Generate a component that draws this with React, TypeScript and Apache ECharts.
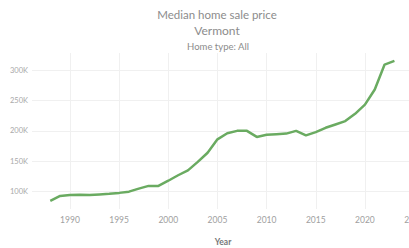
import React, { useEffect, useRef } from "react";
import * as echarts from "echarts";

const years: number[] = [
  1988, 1989, 1990, 1991, 1992, 1993, 1994, 1995, 1996, 1997, 1998, 1999,
  2000, 2001, 2002, 2003, 2004, 2005, 2006, 2007, 2008, 2009, 2010, 2011,
  2012, 2013, 2014, 2015, 2016, 2017, 2018, 2019, 2020, 2021, 2022, 2023,
];
const prices: number[] = [
  85000, 93000, 94500, 95000, 94500, 95500, 96500, 98000, 100000, 105000, 109500, 109500,
  118000, 127000, 135000, 149000, 164000, 186000, 196000, 200000, 200000, 190000, 193500, 194500,
  195500, 200000, 192500, 198000, 205000, 210500, 216000, 228000, 243000, 268000, 309000, 315000,
];
const titleLines: string[] = ["Median home sale price", "Vermont", "Home type: All"];
const xAxisName = "Year";

export default function App() {
  const ref = useRef<HTMLDivElement>(null);
  useEffect(() => {
    if (!ref.current) return;
    const chart = echarts.init(ref.current, null, { renderer: "svg" });
    const font = "Lato, 'Open Sans', sans-serif";
    const tStyle = (size: number) => ({ fontSize: size, fontWeight: "normal", color: "#8c8c8c", fontFamily: font });
    chart.setOption({
      animation: false,
      backgroundColor: "#ffffff",
      title: [
        { text: titleLines[0], left: 212, textAlign: "center", top: 3, textStyle: tStyle(11.5) },
        { text: titleLines[1], left: 212, textAlign: "center", top: 19, textStyle: tStyle(12) },
        { text: titleLines[2], left: 213, textAlign: "center", top: 36, textStyle: tStyle(9.5) },
      ],
      grid: { left: 32, right: -5.1, top: 53, bottom: 39, containLabel: false, outerBoundsMode: "none" },
      xAxis: {
        type: "value",
        min: 1986.14,
        max: 2025,
        splitNumber: 8,
        name: xAxisName,
        nameLocation: "middle",
        nameGap: 28,
        nameTextStyle: { fontSize: 8.5, fontWeight: "bold", color: "#777", fontFamily: font },
        axisLine: { show: false },
        axisTick: { show: false },
        axisLabel: { showMinLabel: false, showMaxLabel: true, hideOverlap: false, fontSize: 8.5, color: "#a0a0a0", margin: 6, fontFamily: font, formatter: (v: number) => String(v) },
        splitLine: { show: true, showMinLine: false, showMaxLine: true, lineStyle: { color: "#f0f0f0", width: 1 } },
      },
      yAxis: {
        type: "value",
        min: 71500,
        max: 328000,
        splitNumber: 5,
        axisLine: { show: false },
        axisTick: { show: false },
        axisLabel: {
          showMinLabel: false,
          showMaxLabel: false,
          fontSize: 7.5,
          color: "#a8a8a8",
          margin: 4,
          fontFamily: font,
          formatter: (v: number) => Math.round(v / 1000) + "K",
        },
        splitLine: { show: true, showMinLine: false, showMaxLine: false, lineStyle: { color: "#f0f0f0", width: 1 } },
      },
      series: [
        {
          type: "line",
          data: years.map((y, i) => [y, prices[i]]),
          showSymbol: false,
          lineStyle: { color: "#6aab61", width: 2.5 },
          itemStyle: { color: "#6aab61" },
        },
      ],
    });
    return () => chart.dispose();
  }, []);
  return (
    <div style={{ position: "fixed", left: 0, top: 0, width: 409, height: 248, overflow: "hidden", background: "#fff" }}>
      <div ref={ref} style={{ width: 409, height: 248 }} />
    </div>
  );
}
